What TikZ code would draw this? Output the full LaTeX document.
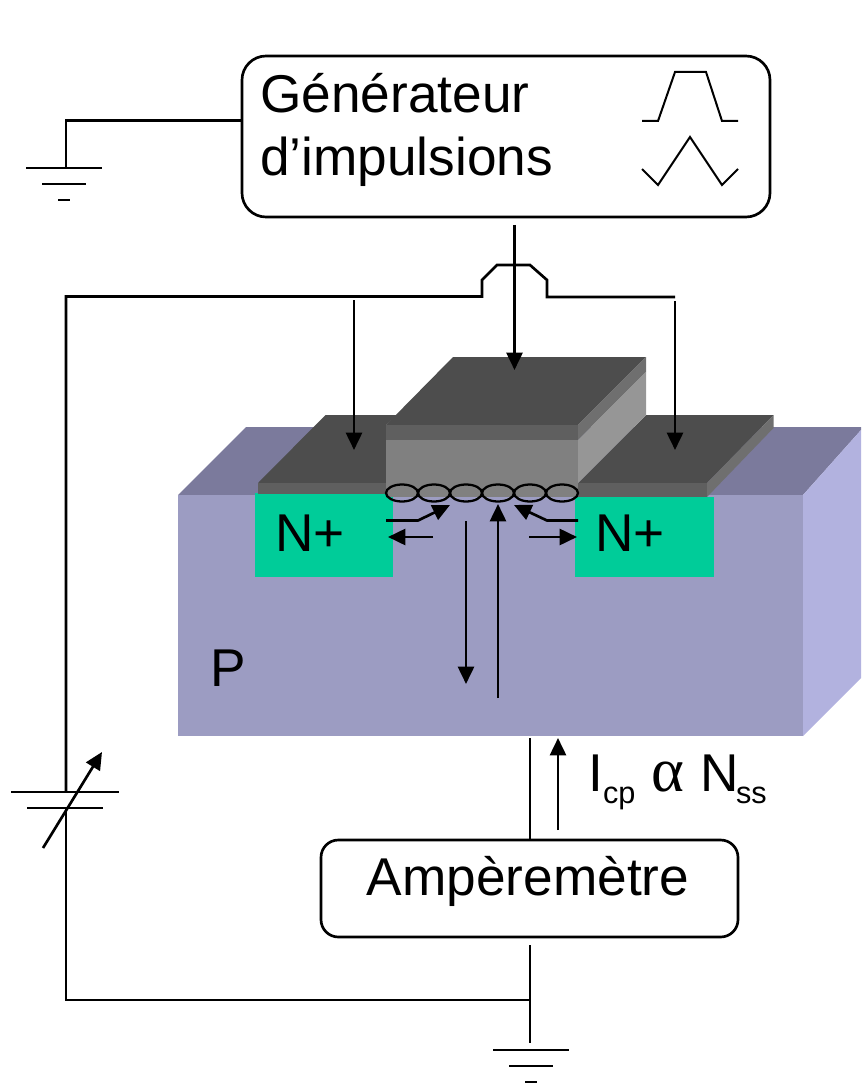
\documentclass[tikz,border=0pt]{standalone}
\usepackage{fontspec}
\setmainfont{Liberation Sans}
\newfontfamily\alphafont{Liberation Serif}
\usetikzlibrary{arrows.meta,calc}
\definecolor{subfront}{HTML}{9C9CC2}
\definecolor{subtop}{HTML}{7B7A9C}
\definecolor{subside}{HTML}{B2B2DF}
\definecolor{nplus}{HTML}{00CC99}
\definecolor{metaltop}{HTML}{4D4D4D}
\definecolor{metalfront}{HTML}{5F5F5F}
\definecolor{metalside}{HTML}{6F6F6F}
\definecolor{oxidefront}{HTML}{808080}
\definecolor{oxideside}{HTML}{969696}
\tikzset{
  wire/.style={line width=2pt,line join=miter},
  arrowwire/.style={wire,-{Triangle[length=13pt,width=12pt]}},
  box/.style={draw,line width=2pt,rounded corners=18pt,inner sep=0pt},
  bigtext/.style={inner sep=0pt,font=\fontsize{39.9}{47.2}\selectfont}
}
\newcommand\groundsym[1]{%
  \draw[wire] ($(#1)+(-38,0)$) -- ($(#1)+(38,0)$);
  \draw[wire] ($(#1)+(-22,16)$) -- ($(#1)+(22,16)$);
  \draw[wire] ($(#1)+(-6,32)$) -- ($(#1)+(6,32)$);
}
\begin{document}
\begin{tikzpicture}[x=0.75pt,y=-0.75pt]
   \useasboundingbox (0,0) rectangle (861,1084);
   % substrate
   \fill[subtop] (178,495) -- (246,427) -- (861,427) -- (861,430) -- (803,495) -- cycle;
   \fill[subside] (803,495) -- (861,430) -- (861,678) -- (803,736) -- cycle;
   \fill[subfront] (178,495) rectangle (803,736);
   \fill[nplus] (255,493) rectangle (393,577);
   \fill[nplus] (575,497) rectangle (714,577);
   % contacts
   \fill[metaltop] (258,483) -- (325.5,415) -- (397,415) -- (386,425) -- (386,483) -- cycle;
   \fill[metalfront] (258,483) rectangle (386,494);
   \fill[metaltop] (578,483) -- (646,415) -- (773.5,415) -- (707,483) -- cycle;
   \fill[metalfront] (578,483) rectangle (707,497);
   \fill[metalside] (707,483) -- (773.5,415) -- (773.5,428) -- (707,497) -- cycle;
   % gate
   \fill[metaltop] (386,425) -- (453,357) -- (646,357) -- (578,425) -- cycle;
   \fill[metalfront] (386,425) rectangle (578,440);
   \fill[metalside] (578,425) -- (646,357) -- (646,372) -- (578,440) -- cycle;
   \fill[oxidefront] (386,440) rectangle (578,497);
   \fill[oxideside] (578,440) -- (646,372) -- (646,415) -- (578,483) -- cycle;
   \foreach \xc in {402,434,466,498,530,562} {
     \draw[line width=1.7pt] (\xc,493) ellipse (16 and 8.5);
   }
   % boxes and texts
   \node[box,minimum width=396pt,minimum height=120.75pt] (gen) at (506,136.5) {};
   \node[bigtext,anchor=base west] (gen1) at (260,113) {Générateur};
   \node[bigtext,anchor=base west] (gen2) at (260,176) {d’impulsions};
   \node[box,rounded corners=13pt,minimum width=312.75pt,minimum height=72.75pt] (amp) at (529.5,888.5) {};
   \node[bigtext,anchor=base] (amptext) at (528,895) {Ampèremètre};
   \node[bigtext,anchor=base west] (nl) at (275,551) {N+};
   \node[bigtext,anchor=base west] (nr) at (595,551) {N+};
   \node[bigtext,anchor=base west] (p) at (210,686) {P};
   \node[bigtext,anchor=base west] (icp) at (588,791)
     {I\raisebox{-9.5pt}{\fontsize{23}{26}\selectfont cp}\hspace{12pt}{\fontsize{47}{47}\alphafont α}\hspace{12.5pt}N\hspace{-2.5pt}\raisebox{-9.5pt}{\fontsize{23}{26}\selectfont ss}};
   % ground left
   \coordinate (gndl) at (64,168);
   \coordinate (genw) at (gen.west |- 0,120.5);
   \draw[wire] (genw) -- (66,120.5) -- (66,168);
   \groundsym{gndl}
   % bias line
   \coordinate (capt) at (66,792);
   \coordinate (capb) at (66,808);
   \coordinate (wirer) at (675,297);
   \draw[wire] (capt) -- (66,296.5) -- (482,296.5) -- (482,280) -- (497,265) -- (530,265)
                      -- (547,280) -- (547,297) -- (wirer);
   \draw[wire] (capb) -- (66,1000) -- (530,1000);
   \draw[wire] (11,792) -- (119,792);
   \draw[wire] (27,808) -- (103,808);
   \coordinate (varb) at (43,848);
   \coordinate (vart) at (102,752);
   \draw[arrowwire] (varb) -- (vart);
   % arrows to contacts
   \coordinate (srct) at (354,300);
   \coordinate (srcb) at (354,450);
   \coordinate (gatet) at (514.5,225);
   \coordinate (gateb) at (514.5,370);
   \coordinate (drnt) at (675,301);
   \coordinate (drnb) at (675,450);
   \draw[arrowwire] (srct) -- (srcb);
   \draw[arrowwire] (gatet) -- (gateb);
   \draw[arrowwire] (drnt) -- (drnb);
   % carriers
   \draw[arrowwire] (386,520.5) -- (418,520.5) -- (450,505);
   \draw[arrowwire] (578,520.5) -- (547,520.5) -- (514,505);
   \draw[arrowwire] (433,537) -- (388,537);
   \draw[arrowwire] (529,537) -- (577,537);
   \draw[arrowwire] (466,521) -- (466,684);
   \draw[arrowwire] (498,698) -- (498,504);
   % ammeter wires
   \coordinate (ampt) at (530,738);
   \coordinate (ampb) at (530,945);
   \coordinate (gndb) at (531,1050);
   \draw[wire] (ampt) -- (amp.north -| ampt);
   \draw[wire] (ampb) -- (530,1043);
   \draw[arrowwire] (558,830) -- (558,738);
   \groundsym{gndb}
   % pulses
   \draw[wire,line width=1.5pt] (642,121) -- (658,121) -- (675,72) -- (706,72) -- (722,121) -- (738,121);
   \draw[wire,line width=1.5pt] (642,169) -- (658,185) -- (690,137) -- (722,185) -- (738,169);
 \end{tikzpicture}
\end{document}
